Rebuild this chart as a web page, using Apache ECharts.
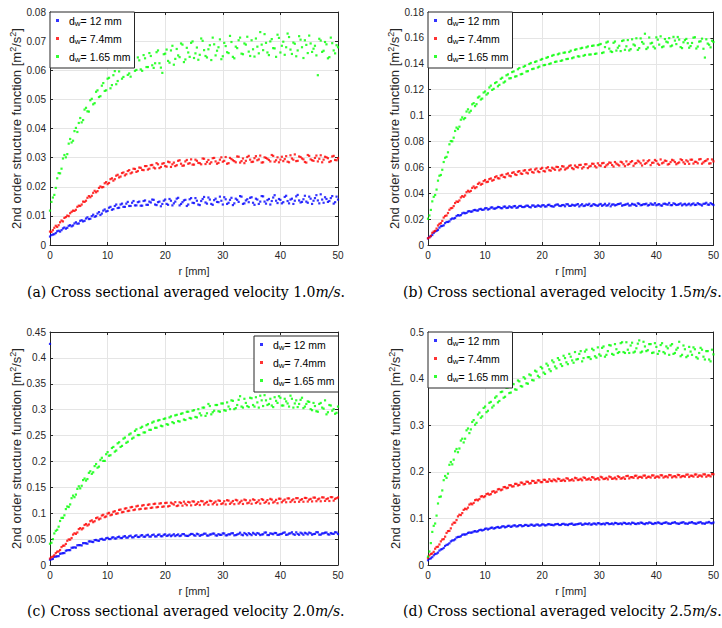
<!DOCTYPE html>
<html><head><meta charset="utf-8">
<script src="https://cdn.jsdelivr.net/npm/echarts@6/dist/echarts.min.js"></script>
<style>html,body{margin:0;padding:0;background:#fff}#c{width:722px;height:628px}</style>
</head><body><div id="c"></div>
<script>
// r [mm] sample positions (two interleaved sets of read-off points)
const R = [0,0.5,1,1.5,2,2.5,3,3.5,4,4.5,
5,5.5,6,6.5,7,7.5,8,8.5,9,9.5,
10,10.5,11,11.5,12,12.5,13,13.5,14,14.5,
15,15.5,16,16.5,17,17.5,18,18.5,19,19.5,
20,20.5,21,21.5,22,22.5,23,23.5,24,24.5,
25,25.5,26,26.5,27,27.5,28,28.5,29,29.5,
30,30.5,31,31.5,32,32.5,33,33.5,34,34.5,
35,35.5,36,36.5,37,37.5,38,38.5,39,39.5,
40,40.5,41,41.5,42,42.5,43,43.5,44,44.5,
45,45.5,46,46.5,47,47.5,48,48.5,49,49.5,50];
const R2 = [0.25,0.75,1.25,1.75,2.25,2.75,3.25,3.75,4.25,4.75,
5.25,5.75,6.25,6.75,7.25,7.75,8.25,8.75,9.25,9.75,
10.25,10.75,11.25,11.75,12.25,12.75,13.25,13.75,14.25,14.75,
15.25,15.75,16.25,16.75,17.25,17.75,18.25,18.75,19.25,19.75,
20.25,20.75,21.25,21.75,22.25,22.75,23.25,23.75,24.25,24.75,
25.25,25.75,26.25,26.75,27.25,27.75,28.25,28.75,29.25,29.75,
30.25,30.75,31.25,31.75,32.25,32.75,33.25,33.75,34.25,34.75,
35.25,35.75,36.25,36.75,37.25,37.75,38.25,38.75,39.25,39.75,
40.25,40.75,41.25,41.75,42.25,42.75,43.25,43.75,44.25,44.75,
45.25,45.75,46.25,46.75,47.25,47.75,48.25,48.75,49.25,49.75];

// (a) 1.0 m/s
const aBlue = [0.0029,0.0036,0.0041,0.0049,0.0051,0.0060,0.0059,0.0068,0.0067,0.0078,
0.0074,0.0085,0.0083,0.0095,0.0090,0.0104,0.0099,0.0113,0.0108,0.0122,
0.0117,0.0131,0.0123,0.0139,0.0128,0.0142,0.0131,0.0148,0.0134,0.0151,
0.0136,0.0149,0.0135,0.0153,0.0138,0.0146,0.0155,0.0137,0.0149,0.0141,
0.0156,0.0138,0.0152,0.0143,0.0159,0.0136,0.0147,0.0155,0.0139,0.0161,
0.0144,0.0152,0.0137,0.0158,0.0146,0.0163,0.0141,0.0154,0.0148,0.0166,
0.0139,0.0157,0.0145,0.0162,0.0143,0.0155,0.0168,0.0141,0.0153,0.0147,
0.0164,0.0138,0.0156,0.0149,0.0167,0.0142,0.0158,0.0151,0.0171,0.0144,
0.0155,0.0147,0.0169,0.0143,0.0159,0.0152,0.0172,0.0146,0.0157,0.0149,
0.0166,0.0141,0.0161,0.0153,0.0174,0.0145,0.0158,0.0151,0.0168,0.0147,0.0156];
const aBlue2 = [0.0034,0.0037,0.0047,0.0046,0.0057,0.0056,0.0066,0.0064,0.0074,0.0073,
0.0083,0.0081,0.0091,0.0089,0.0099,0.0097,0.0108,0.0103,0.0118,0.0115,
0.0128,0.0121,0.0134,0.0127,0.0139,0.0131,0.0142,0.0134,0.0145,0.0136,
0.0147,0.0135,0.0151,0.0138,0.0149,0.0156,0.0139,0.0147,0.0133,0.0152,
0.0141,0.0158,0.0136,0.0149,0.0162,0.0141,0.0153,0.0134,0.0157,0.0145,
0.0161,0.0139,0.0151,0.0165,0.0142,0.0156,0.0138,0.0159,0.0147,0.0152,
0.0164,0.0141,0.0155,0.0137,0.0159,0.0148,0.0166,0.0143,0.0157,0.0162,
0.0145,0.0159,0.0141,0.0168,0.0149,0.0154,0.0139,0.0163,0.0152,0.0158,
0.0143,0.0165,0.0151,0.0156,0.0141,0.0167,0.0153,0.0148,0.0169,0.0145,
0.0159,0.0152,0.0171,0.0143,0.0156,0.0164,0.0148,0.0161,0.0142,0.0166];
const aRed = [0.0046,0.0051,0.0066,0.0068,0.0084,0.0093,0.0101,0.0109,0.0118,0.0121,
0.0135,0.0139,0.0148,0.0162,0.0164,0.0179,0.0181,0.0196,0.0198,0.0212,
0.0209,0.0226,0.0221,0.0238,0.0232,0.0247,0.0239,0.0254,0.0246,0.0262,
0.0251,0.0266,0.0258,0.0271,0.0259,0.0274,0.0266,0.0281,0.0264,0.0279,
0.0271,0.0286,0.0268,0.0283,0.0274,0.0291,0.0272,0.0287,0.0279,0.0294,
0.0276,0.0289,0.0281,0.0297,0.0278,0.0292,0.0284,0.0299,0.0279,0.0293,
0.0286,0.0302,0.0281,0.0295,0.0288,0.0304,0.0283,0.0297,0.0289,0.0306,
0.0285,0.0298,0.0291,0.0307,0.0284,0.0299,0.0292,0.0309,0.0286,0.0301,
0.0293,0.0288,0.0305,0.0284,0.0297,0.0311,0.0289,0.0302,0.0294,0.0283,
0.0306,0.0291,0.0299,0.0287,0.0308,0.0293,0.0301,0.0285,0.0304,0.0292,0.0298];
const aRed2 = [0.0045,0.0059,0.0062,0.0078,0.0081,0.0096,0.0099,0.0114,0.0117,0.0131,
0.0134,0.0149,0.0152,0.0168,0.0169,0.0186,0.0185,0.0201,0.0199,0.0216,
0.0213,0.0229,0.0226,0.0241,0.0235,0.0249,0.0243,0.0257,0.0249,0.0261,
0.0254,0.0265,0.0257,0.0271,0.0262,0.0275,0.0263,0.0277,0.0268,0.0281,
0.0269,0.0284,0.0277,0.0271,0.0289,0.0279,0.0273,0.0292,0.0281,0.0276,
0.0293,0.0282,0.0277,0.0296,0.0285,0.0279,0.0298,0.0287,0.0282,0.0301,
0.0289,0.0279,0.0299,0.0291,0.0284,0.0303,0.0288,0.0281,0.0302,0.0293,
0.0286,0.0305,0.0294,0.0283,0.0301,0.0296,0.0287,0.0306,0.0291,0.0284,
0.0303,0.0295,0.0286,0.0308,0.0293,0.0288,0.0304,0.0297,0.0285,0.0309,
0.0294,0.0289,0.0307,0.0296,0.0284,0.0303,0.0298,0.0288,0.0306,0.0291];
const aGreen = [0.0118,0.0163,0.0196,0.0247,0.0262,0.0309,0.0312,0.0364,0.0358,0.0402,
0.0419,0.0421,0.0465,0.0459,0.0497,0.0483,0.0526,0.0508,0.0547,0.0529,
0.0571,0.0538,0.0583,0.0552,0.0596,0.0571,0.0612,0.0584,0.0578,0.0627,
0.0601,0.0634,0.0598,0.0641,0.0611,0.0649,0.0608,0.0662,0.0624,0.0591,
0.0657,0.0632,0.0668,0.0619,0.0673,0.0645,0.0688,0.0637,0.0661,0.0694,
0.0642,0.0678,0.0653,0.0701,0.0649,0.0672,0.0635,0.0689,0.0667,0.0706,
0.0648,0.0683,0.0659,0.0697,0.0641,0.0676,0.0712,0.0655,0.0688,0.0664,
0.0703,0.0647,0.0681,0.0731,0.0669,0.0694,0.0652,0.0707,0.0675,0.0722,
0.0661,0.0698,0.0679,0.0714,0.0656,0.0691,0.0668,0.0705,0.0642,0.0687,
0.0719,0.0663,0.0684,0.0583,0.0702,0.0667,0.0689,0.0645,0.0693,0.0658,0.0679];
const aGreen2 = [0.0148,0.0172,0.0229,0.0246,0.0297,0.0301,0.0348,0.0352,0.0391,0.0388,
0.0436,0.0429,0.0471,0.0458,0.0502,0.0487,0.0531,0.0511,0.0556,0.0531,
0.0574,0.0549,0.0597,0.0563,0.0611,0.0577,0.0624,0.0589,0.0639,0.0598,
0.0644,0.0603,0.0652,0.0611,0.0659,0.0617,0.0624,0.0668,0.0609,0.0655,
0.0671,0.0626,0.0684,0.0639,0.0651,0.0692,0.0628,0.0677,0.0646,0.0699,
0.0658,0.0636,0.0709,0.0669,0.0644,0.0686,0.0712,0.0651,0.0679,0.0638,
0.0694,0.0662,0.0718,0.0646,0.0681,0.0703,0.0657,0.0692,0.0715,0.0649,
0.0672,0.0709,0.0658,0.0688,0.0724,0.0661,0.0699,0.0676,0.0646,0.0711,
0.0684,0.0653,0.0726,0.0671,0.0695,0.0648,0.0717,0.0679,0.0703,0.0659,
0.0692,0.0674,0.0651,0.0708,0.0663,0.0697,0.0641,0.0712,0.0668,0.0686];

// (b) 1.5 m/s
const bBlue = [0.0051,0.0068,0.0093,0.0109,0.0134,0.0147,0.0169,0.0178,0.0198,0.0204,
0.0224,0.0227,0.0244,0.0245,0.0259,0.0257,0.0269,0.0266,0.0276,0.0271,
0.0283,0.0274,0.0289,0.0281,0.0286,0.0293,0.0284,0.0297,0.0288,0.0292,
0.0299,0.0287,0.0301,0.0294,0.0297,0.0303,0.0291,0.0305,0.0298,0.0302,
0.0306,0.0297,0.0309,0.0301,0.0296,0.0312,0.0303,0.0308,0.0299,0.0314,
0.0302,0.0307,0.0311,0.0298,0.0315,0.0304,0.0309,0.0301,0.0316,0.0306,
0.0312,0.0303,0.0318,0.0307,0.0299,0.0314,0.0309,0.0317,0.0304,0.0311,
0.0319,0.0306,0.0313,0.0302,0.0318,0.0309,0.0315,0.0305,0.0321,0.0311,
0.0307,0.0316,0.0304,0.0319,0.0312,0.0308,0.0322,0.0309,0.0315,0.0306,
0.0318,0.0313,0.0307,0.0321,0.0311,0.0316,0.0305,0.0319,0.0312,0.0324,0.0309];
const bBlue2 = [0.0063,0.0077,0.0104,0.0116,0.0145,0.0152,0.0178,0.0183,0.0205,0.0209,
0.0231,0.0231,0.0249,0.0248,0.0262,0.0259,0.0271,0.0266,0.0279,0.0273,
0.0285,0.0278,0.0291,0.0281,0.0294,0.0285,0.0296,0.0286,0.0299,0.0289,
0.0301,0.0291,0.0302,0.0293,0.0304,0.0294,0.0305,0.0295,0.0306,0.0296,
0.0308,0.0298,0.0311,0.0299,0.0306,0.0313,0.0301,0.0309,0.0315,0.0302,
0.0311,0.0304,0.0316,0.0307,0.0301,0.0313,0.0318,0.0305,0.0311,0.0303,
0.0317,0.0309,0.0304,0.0319,0.0312,0.0306,0.0316,0.0321,0.0308,0.0314,
0.0305,0.0318,0.0311,0.0322,0.0307,0.0315,0.0319,0.0309,0.0313,0.0323,
0.0312,0.0306,0.0318,0.0314,0.0325,0.0308,0.0317,0.0311,0.0321,0.0313,
0.0307,0.0319,0.0315,0.0309,0.0323,0.0312,0.0318,0.0326,0.0311,0.0316];
const bRed = [0.0052,0.0071,0.0104,0.0127,0.0163,0.0186,0.0224,0.0247,0.0284,0.0301,
0.0336,0.0344,0.0378,0.0383,0.0419,0.0418,0.0452,0.0447,0.0481,0.0472,
0.0502,0.0489,0.0514,0.0503,0.0531,0.0514,0.0542,0.0523,0.0553,0.0531,
0.0562,0.0541,0.0571,0.0549,0.0578,0.0553,0.0584,0.0559,0.0591,0.0563,
0.0596,0.0568,0.0601,0.0574,0.0589,0.0604,0.0577,0.0609,0.0583,0.0598,
0.0615,0.0586,0.0603,0.0618,0.0591,0.0623,0.0594,0.0611,0.0627,0.0599,
0.0616,0.0631,0.0603,0.0624,0.0635,0.0606,0.0629,0.0614,0.0638,0.0609,
0.0621,0.0641,0.0612,0.0633,0.0644,0.0614,0.0627,0.0647,0.0617,0.0636,
0.0649,0.0619,0.0631,0.0652,0.0622,0.0641,0.0653,0.0624,0.0638,0.0656,
0.0627,0.0645,0.0659,0.0629,0.0642,0.0661,0.0628,0.0648,0.0663,0.0631,0.0646];
const bRed2 = [0.0058,0.0094,0.0109,0.0151,0.0169,0.0212,0.0228,0.0272,0.0286,0.0324,
0.0333,0.0367,0.0372,0.0408,0.0411,0.0441,0.0439,0.0472,0.0466,0.0494,
0.0486,0.0509,0.0497,0.0524,0.0516,0.0537,0.0526,0.0547,0.0536,0.0557,
0.0546,0.0566,0.0553,0.0574,0.0559,0.0579,0.0564,0.0583,0.0569,0.0588,
0.0572,0.0593,0.0578,0.0597,0.0581,0.0602,0.0586,0.0606,0.0591,0.0611,
0.0594,0.0614,0.0599,0.0619,0.0602,0.0624,0.0606,0.0628,0.0609,0.0631,
0.0612,0.0634,0.0615,0.0637,0.0618,0.0641,0.0621,0.0643,0.0624,0.0646,
0.0626,0.0648,0.0629,0.0651,0.0631,0.0653,0.0633,0.0655,0.0635,0.0657,
0.0628,0.0661,0.0637,0.0649,0.0626,0.0658,0.0641,0.0632,0.0662,0.0639,
0.0654,0.0627,0.0659,0.0643,0.0631,0.0664,0.0638,0.0652,0.0629,0.0661];
const bGreen = [0.0203,0.0271,0.0372,0.0428,0.0535,0.0581,0.0674,0.0716,0.0803,0.0829,
0.0907,0.0914,0.0986,0.0981,0.1048,0.1037,0.1096,0.1088,0.1147,0.1131,
0.1186,0.1172,0.1231,0.1206,0.1258,0.1237,0.1292,0.1263,0.1318,0.1289,
0.1341,0.1304,0.1367,0.1322,0.1384,0.1343,0.1406,0.1362,0.1419,0.1378,
0.1437,0.1391,0.1452,0.1403,0.1468,0.1417,0.1479,0.1426,0.1487,0.1438,
0.1501,0.1449,0.1512,0.1456,0.1523,0.1468,0.1534,0.1472,0.1541,0.1479,
0.1548,0.1483,0.1529,0.1571,0.1496,0.1562,0.1502,0.1539,0.1576,0.1508,
0.1583,0.1513,0.1549,0.1597,0.1521,0.1568,0.1632,0.1526,0.1557,0.1532,
0.1604,0.1548,0.1528,0.1591,0.1565,0.1535,0.1608,0.1552,0.1587,0.1521,
0.1583,0.1559,0.1537,0.1602,0.1518,0.1571,0.1594,0.1448,0.1556,0.1527,0.1568];
const bGreen2 = [0.0228,0.0337,0.0386,0.0497,0.0541,0.0641,0.0681,0.0778,0.0801,0.0881,
0.0896,0.0968,0.0972,0.1031,0.1024,0.1087,0.1073,0.1139,0.1124,0.1178,
0.1162,0.1217,0.1198,0.1251,0.1226,0.1284,0.1255,0.1311,0.1287,0.1336,
0.1301,0.1358,0.1319,0.1377,0.1341,0.1398,0.1359,0.1414,0.1372,0.1431,
0.1389,0.1446,0.1398,0.1462,0.1414,0.1473,0.1422,0.1485,0.1436,0.1491,
0.1443,0.1508,0.1458,0.1519,0.1462,0.1527,0.1471,0.1538,0.1476,0.1544,
0.1553,0.1488,0.1564,0.1517,0.1491,0.1572,0.1524,0.1498,0.1581,0.1535,
0.1503,0.1589,0.1541,0.1507,0.1596,0.1555,0.1514,0.1603,0.1562,0.1519,
0.1586,0.1612,0.1534,0.1571,0.1598,0.1541,0.1579,0.1607,0.1529,0.1566,
0.1592,0.1524,0.1561,0.1605,0.1533,0.1574,0.1516,0.1589,0.1547,0.1578];

// (c) 2.0 m/s
const cBlue = [0.0102,0.0118,0.0163,0.0172,0.0223,0.0231,0.0284,0.0287,0.0336,0.0335,
0.0384,0.0378,0.0423,0.0411,0.0456,0.0443,0.0484,0.0467,0.0506,0.0488,
0.0524,0.0501,0.0536,0.0512,0.0547,0.0521,0.0558,0.0529,0.0566,0.0535,
0.0573,0.0541,0.0578,0.0546,0.0583,0.0549,0.0587,0.0552,0.0589,0.0555,
0.0592,0.0571,0.0557,0.0594,0.0578,0.0559,0.0597,0.0569,0.0561,0.0599,
0.0574,0.0603,0.0563,0.0586,0.0605,0.0567,0.0591,0.0606,0.0568,0.0583,
0.0611,0.0572,0.0594,0.0612,0.0573,0.0589,0.0624,0.0575,0.0598,0.0615,
0.0577,0.0602,0.0617,0.0578,0.0593,0.0628,0.0579,0.0604,0.0619,0.0581,
0.0596,0.0621,0.0582,0.0607,0.0632,0.0583,0.0599,0.0624,0.0584,0.0609,
0.0626,0.0585,0.0601,0.0631,0.0586,0.0612,0.0627,0.0587,0.0604,0.0633,0.0598];
const cBlue2 = [0.0109,0.0157,0.0168,0.0216,0.0229,0.0276,0.0288,0.0333,0.0341,0.0381,
0.0384,0.0422,0.0419,0.0456,0.0449,0.0481,0.0471,0.0499,0.0488,0.0516,
0.0502,0.0529,0.0511,0.0538,0.0521,0.0547,0.0528,0.0555,0.0534,0.0562,
0.0541,0.0568,0.0546,0.0573,0.0549,0.0578,0.0552,0.0581,0.0556,0.0584,
0.0561,0.0588,0.0574,0.0559,0.0591,0.0569,0.0596,0.0562,0.0583,0.0599,
0.0566,0.0593,0.0577,0.0604,0.0569,0.0588,0.0607,0.0572,0.0596,0.0581,
0.0609,0.0574,0.0591,0.0614,0.0578,0.0602,0.0586,0.0618,0.0576,0.0597,
0.0621,0.0583,0.0605,0.0589,0.0626,0.0579,0.0611,0.0594,0.0617,0.0585,
0.0603,0.0629,0.0587,0.0612,0.0596,0.0631,0.0583,0.0608,0.0622,0.0591,
0.0614,0.0598,0.0634,0.0586,0.0609,0.0624,0.0593,0.0617,0.0601,0.0628];
const cBlueOutlier = [[0, 0.427]];
const cRed = [0.0124,0.0163,0.0231,0.0262,0.0346,0.0374,0.0468,0.0489,0.0587,0.0601,
0.0694,0.0688,0.0773,0.0762,0.0846,0.0827,0.0905,0.0881,0.0956,0.0924,
0.0993,0.0961,0.1027,0.0989,0.1064,0.1018,0.1089,0.1042,0.1114,0.1061,
0.1132,0.1076,0.1147,0.1089,0.1162,0.1102,0.1178,0.1114,0.1186,0.1123,
0.1197,0.1131,0.1204,0.1168,0.1139,0.1211,0.1146,0.1183,0.1218,0.1152,
0.1224,0.1181,0.1158,0.1229,0.1195,0.1163,0.1234,0.1201,0.1167,0.1238,
0.1192,0.1171,0.1243,0.1206,0.1175,0.1247,0.1211,0.1179,0.1251,0.1203,
0.1183,0.1255,0.1216,0.1186,0.1258,0.1221,0.1189,0.1262,0.1225,0.1193,
0.1279,0.1241,0.1212,0.1286,0.1248,0.1217,0.1291,0.1256,0.1222,0.1293,
0.1262,0.1228,0.1301,0.1268,0.1231,0.1304,0.1273,0.1236,0.1309,0.1277,0.1305];
const cRed2 = [0.0151,0.0188,0.0257,0.0289,0.0372,0.0407,0.0494,0.0521,0.0612,0.0628,
0.0713,0.0709,0.0791,0.0783,0.0862,0.0846,0.0917,0.0898,0.0969,0.0937,
0.1007,0.0973,0.1039,0.0998,0.1071,0.1026,0.1096,0.1049,0.1121,0.1071,
0.1143,0.1084,0.1158,0.1093,0.1171,0.1109,0.1184,0.1121,0.1193,0.1131,
0.1202,0.1141,0.1186,0.1215,0.1149,0.1197,0.1223,0.1155,0.1208,0.1229,
0.1161,0.1214,0.1236,0.1169,0.1218,0.1241,0.1173,0.1225,0.1247,0.1178,
0.1232,0.1252,0.1181,0.1236,0.1258,0.1186,0.1241,0.1263,0.1192,0.1245,
0.1268,0.1197,0.1249,0.1272,0.1201,0.1253,0.1277,0.1206,0.1258,0.1281,
0.1212,0.1263,0.1286,0.1217,0.1268,0.1291,0.1221,0.1272,0.1296,0.1226,
0.1277,0.1302,0.1232,0.1282,0.1307,0.1238,0.1286,0.1311,0.1243,0.1291];
const cGreen = [0.041,0.050,0.066,0.074,0.091,0.096,0.113,0.117,0.134,0.136,
0.152,0.153,0.167,0.166,0.181,0.179,0.195,0.190,0.207,0.201,
0.218,0.212,0.228,0.221,0.237,0.230,0.246,0.238,0.254,0.246,
0.262,0.251,0.267,0.256,0.272,0.261,0.277,0.265,0.280,0.268,
0.283,0.271,0.287,0.274,0.290,0.277,0.293,0.280,0.296,0.283,
0.299,0.285,0.293,0.304,0.288,0.311,0.291,0.298,0.309,0.296,
0.312,0.298,0.306,0.318,0.301,0.309,0.326,0.304,0.313,0.305,
0.322,0.306,0.314,0.327,0.307,0.318,0.311,0.308,0.324,0.313,
0.323,0.308,0.316,0.306,0.321,0.312,0.305,0.319,0.303,0.311,
0.315,0.299,0.307,0.296,0.313,0.302,0.291,0.309,0.298,0.292,0.306];
const cGreen2 = [0.043,0.061,0.068,0.085,0.091,0.108,0.112,0.129,0.131,0.147,
0.148,0.164,0.163,0.178,0.176,0.191,0.188,0.203,0.201,0.214,
0.211,0.226,0.219,0.235,0.228,0.244,0.236,0.252,0.244,0.259,
0.251,0.265,0.256,0.270,0.261,0.275,0.265,0.279,0.269,0.282,
0.272,0.285,0.276,0.289,0.278,0.292,0.281,0.296,0.284,0.298,
0.286,0.301,0.289,0.304,0.293,0.307,0.295,0.309,0.297,0.312,
0.299,0.314,0.301,0.317,0.303,0.319,0.306,0.321,0.307,0.323,
0.309,0.324,0.304,0.318,0.328,0.309,0.321,0.305,0.317,0.326,
0.308,0.321,0.312,0.327,0.304,0.318,0.311,0.323,0.306,0.316,
0.301,0.313,0.297,0.311,0.304,0.318,0.295,0.308,0.301,0.294];

// (d) 2.5 m/s
const dBlue = [0.0102,0.0143,0.0208,0.0244,0.0309,0.0342,0.0408,0.0441,0.0507,0.0531,
0.0589,0.0603,0.0648,0.0652,0.0689,0.0693,0.0718,0.0714,0.0748,0.0741,
0.0776,0.0762,0.0797,0.0781,0.0809,0.0796,0.0828,0.0808,0.0839,0.0817,
0.0849,0.0826,0.0854,0.0831,0.0859,0.0838,0.0866,0.0841,0.0868,0.0845,
0.0871,0.0849,0.0874,0.0862,0.0852,0.0877,0.0858,0.0879,0.0866,0.0857,
0.0884,0.0861,0.0873,0.0886,0.0863,0.0888,0.0875,0.0866,0.0891,0.0869,
0.0895,0.0878,0.0871,0.0897,0.0882,0.0873,0.0899,0.0884,0.0875,0.0901,
0.0886,0.0876,0.0903,0.0879,0.0889,0.0904,0.0877,0.0892,0.0905,0.0880,
0.0894,0.0906,0.0881,0.0907,0.0893,0.0882,0.0908,0.0896,0.0883,0.0909,
0.0891,0.0884,0.0909,0.0898,0.0884,0.0910,0.0893,0.0885,0.0911,0.0899,0.0912];
const dBlue2 = [0.0131,0.0168,0.0234,0.0266,0.0333,0.0366,0.0431,0.0466,0.0526,0.0551,
0.0602,0.0617,0.0657,0.0662,0.0697,0.0698,0.0727,0.0725,0.0756,0.0753,
0.0783,0.0777,0.0803,0.0792,0.0816,0.0807,0.0831,0.0819,0.0841,0.0829,
0.0849,0.0834,0.0855,0.0839,0.0859,0.0844,0.0863,0.0847,0.0866,0.0851,
0.0869,0.0854,0.0876,0.0861,0.0871,0.0881,0.0859,0.0884,0.0868,0.0877,
0.0887,0.0866,0.0879,0.0892,0.0869,0.0883,0.0895,0.0871,0.0886,0.0898,
0.0874,0.0889,0.0901,0.0877,0.0892,0.0904,0.0879,0.0894,0.0906,0.0881,
0.0896,0.0908,0.0883,0.0897,0.0911,0.0885,0.0899,0.0913,0.0886,0.0901,
0.0914,0.0887,0.0902,0.0916,0.0888,0.0903,0.0918,0.0889,0.0905,0.0919,
0.0891,0.0906,0.0921,0.0892,0.0907,0.0922,0.0893,0.0908,0.0924,0.0894];
const dRed = [0.0148,0.0236,0.0283,0.0386,0.0441,0.0547,0.0608,0.0727,0.0786,0.0908,
0.0964,0.1079,0.1114,0.1208,0.1231,0.1318,0.1332,0.1403,0.1414,0.1478,
0.1476,0.1532,0.1521,0.1584,0.1572,0.1631,0.1619,0.1674,0.1658,0.1712,
0.1689,0.1741,0.1718,0.1765,0.1739,0.1784,0.1756,0.1801,0.1768,0.1814,
0.1779,0.1826,0.1788,0.1807,0.1836,0.1796,0.1845,0.1813,0.1803,0.1853,
0.1821,0.1811,0.1861,0.1832,0.1818,0.1868,0.1839,0.1826,0.1874,0.1845,
0.1832,0.1879,0.1851,0.1838,0.1884,0.1856,0.1843,0.1889,0.1861,0.1847,
0.1913,0.1885,0.1871,0.1916,0.1889,0.1874,0.1919,0.1892,0.1877,0.1922,
0.1895,0.1879,0.1924,0.1898,0.1881,0.1927,0.1901,0.1883,0.1929,0.1904,
0.1895,0.1941,0.1917,0.1897,0.1943,0.1919,0.1899,0.1945,0.1922,0.1901,0.1947];
const dRed2 = [0.0203,0.0247,0.0349,0.0392,0.0507,0.0556,0.0688,0.0731,0.0869,0.0908,
0.1043,0.1071,0.1183,0.1197,0.1296,0.1302,0.1391,0.1387,0.1468,0.1456,
0.1521,0.1508,0.1572,0.1553,0.1623,0.1604,0.1671,0.1648,0.1712,0.1684,
0.1741,0.1707,0.1769,0.1731,0.1788,0.1749,0.1806,0.1762,0.1817,0.1778,
0.1829,0.1787,0.1841,0.1798,0.1819,0.1852,0.1805,0.1831,0.1862,0.1813,
0.1838,0.1871,0.1823,0.1849,0.1879,0.1831,0.1856,0.1886,0.1837,0.1863,
0.1893,0.1844,0.1869,0.1898,0.1849,0.1875,0.1904,0.1853,0.1881,0.1908,
0.1858,0.1886,0.1914,0.1863,0.1891,0.1918,0.1867,0.1895,0.1923,0.1871,
0.1899,0.1927,0.1876,0.1903,0.1931,0.1879,0.1907,0.1935,0.1884,0.1911,
0.1938,0.1888,0.1915,0.1942,0.1891,0.1919,0.1946,0.1894,0.1923,0.1951];
const dGreen = [0.018,0.047,0.084,0.106,0.146,0.160,0.191,0.196,0.221,0.226,
0.249,0.250,0.271,0.271,0.293,0.291,0.311,0.305,0.327,0.319,
0.340,0.331,0.350,0.342,0.362,0.352,0.372,0.361,0.381,0.370,
0.388,0.376,0.394,0.383,0.400,0.389,0.407,0.396,0.415,0.403,
0.422,0.410,0.428,0.416,0.435,0.422,0.440,0.427,0.444,0.431,
0.447,0.434,0.441,0.453,0.437,0.458,0.446,0.442,0.461,0.445,
0.452,0.466,0.447,0.459,0.471,0.451,0.463,0.457,0.478,0.455,
0.462,0.471,0.456,0.465,0.482,0.458,0.469,0.461,0.474,0.456,
0.468,0.459,0.476,0.454,0.465,0.471,0.453,0.462,0.479,0.451,
0.463,0.449,0.458,0.467,0.446,0.455,0.462,0.441,0.459,0.437,0.452];
const dGreen2 = [0.029,0.071,0.089,0.132,0.147,0.182,0.187,0.215,0.216,0.244,
0.242,0.267,0.263,0.289,0.283,0.307,0.301,0.323,0.316,0.337,
0.328,0.348,0.338,0.359,0.349,0.371,0.359,0.380,0.369,0.389,
0.377,0.396,0.384,0.403,0.390,0.409,0.397,0.417,0.406,0.425,
0.413,0.432,0.420,0.439,0.426,0.444,0.431,0.449,0.435,0.453,
0.439,0.457,0.442,0.459,0.444,0.462,0.446,0.464,0.448,0.467,
0.449,0.469,0.451,0.472,0.453,0.474,0.455,0.476,0.457,0.478,
0.455,0.477,0.458,0.475,0.456,0.479,0.459,0.474,0.455,0.476,
0.453,0.472,0.457,0.469,0.451,0.474,0.455,0.466,0.448,0.471,
0.446,0.468,0.451,0.463,0.443,0.466,0.447,0.459,0.441,0.462];

const SERIES_NAMES = ['dw12', 'dw74', 'dw165'];
const LEGEND_TEXT = {dw12: '= 12 mm', dw74: '= 7.4mm', dw165: '= 1.65 mm'};
const COLORS = ['#0000ff', '#ff0000', '#00ff00'];
const Y_MAX = [0.08, 0.18, 0.45, 0.5];
const Y_STEP = [0.01, 0.02, 0.05, 0.1];
const X_MAX = 50, X_STEP = 10;
const X_NAME = 'r [mm]';
const Y_NAME = '2nd order structure function [m{sup|2}/s{sup|2}]';
const CAPTIONS = ['(a) Cross sectional averaged velocity 1.0',
                  '(b) Cross sectional averaged velocity 1.5',
                  '(c) Cross sectional averaged velocity 2.0',
                  '(d) Cross sectional averaged velocity 2.5'];
const CAPTION_UNIT = 'm/s';

// per panel: [blue, red, green] on R, [blue, red, green] on R2, extra points
const PANELS = [
  [[aBlue, aRed, aGreen], [aBlue2, aRed2, aGreen2], [[], [], []]],
  [[bBlue, bRed, bGreen], [bBlue2, bRed2, bGreen2], [[], [], []]],
  [[cBlue, cRed, cGreen], [cBlue2, cRed2, cGreen2], [cBlueOutlier, [], []]],
  [[dBlue, dRed, dGreen], [dBlue2, dRed2, dGreen2], [[], [], []]]
];

// layout
const GRID_POS = [[50, 12], [428, 12], [50, 332], [428, 332]];
const GRID_W = 288, GRID_H = 233;
const LEGEND_POS = [[50, 12], [428, 12], [254, 336], [428, 332]];
const CAPTION_POS = [[27, 285], [403, 285], [27, 604], [403, 604]];

const FONT = '"Liberation Sans", Arial, Helvetica, sans-serif';
const AX = '#262626';

const grid = [], xAxis = [], yAxis = [], series = [], legend = [], title = [];
PANELS.forEach((p, i) => {
  grid.push({left: GRID_POS[i][0], top: GRID_POS[i][1], width: GRID_W, height: GRID_H, containLabel: false});
  const line = {show: true, onZero: false, lineStyle: {color: AX, width: 1}};
  const tick = {show: true, inside: true, length: 3, lineStyle: {color: AX, width: 1}};
  xAxis.push({gridIndex: i, type: 'value', min: 0, max: X_MAX, interval: X_STEP,
    axisLine: line, axisTick: tick,
    axisLabel: {fontSize: 10, color: AX, margin: 5, fontFamily: FONT},
    splitLine: {show: true, lineStyle: {color: '#e5e5e5', width: 1}},
    name: X_NAME, nameLocation: 'middle', nameGap: 20,
    nameTextStyle: {fontSize: 11, color: AX, fontFamily: FONT}});
  yAxis.push({gridIndex: i, type: 'value', min: 0, max: Y_MAX[i], interval: Y_STEP[i],
    axisLine: line, axisTick: tick,
    axisLabel: {fontSize: 10, color: AX, margin: 4, fontFamily: FONT},
    splitLine: {show: true, lineStyle: {color: '#e5e5e5', width: 1}},
    name: Y_NAME, nameLocation: 'middle', nameGap: 25,
    nameTextStyle: {fontSize: 13, color: AX, fontFamily: FONT,
      rich: {sup: {fontSize: 9, color: AX, fontFamily: FONT, padding: [0, 0, 7, 0]}}}});
  legend.push({left: LEGEND_POS[i][0], top: LEGEND_POS[i][1], orient: 'vertical',
    icon: 'rect', itemWidth: 3, itemHeight: 3, itemGap: 6,
    padding: [3, 4, 5, 6], borderColor: AX, borderWidth: 1, backgroundColor: '#fff',
    selectedMode: false, data: SERIES_NAMES,
    formatter: n => '{t|d}{s|w}{t|' + LEGEND_TEXT[n] + '}',
    textStyle: {fontSize: 10.5, color: '#000', fontFamily: FONT, padding: [0, 0, 0, 5],
      rich: {t: {fontSize: 10.5, color: '#000', fontFamily: FONT},
             s: {fontSize: 8, color: '#000', fontFamily: FONT, padding: [5, 0, 0, 0]}}}});
  title.push({text: CAPTIONS[i] + '{i|' + CAPTION_UNIT + '}.', left: CAPTION_POS[i][0], top: CAPTION_POS[i][1],
    padding: 0,
    textStyle: {fontFamily: '"DejaVu Serif", serif', fontSize: 14, fontWeight: 'normal', color: '#000',
      rich: {i: {fontFamily: '"DejaVu Serif", serif', fontSize: 14, fontStyle: 'italic', color: '#000'}}}});
  [0, 1, 2].forEach(j => {
    const data = R.map((r, k) => [r, p[0][j][k]])
      .concat(R2.map((r, k) => [r, p[1][j][k]]))
      .concat(p[2][j]);
    series.push({type: 'scatter', name: SERIES_NAMES[j], xAxisIndex: i, yAxisIndex: i,
      data: data, symbol: 'rect', symbolSize: 2.2, itemStyle: {color: COLORS[j]}, silent: true});
  });
});
// box: top and right axes with inward ticks
PANELS.forEach((p, i) => {
  const line = {show: true, onZero: false, lineStyle: {color: AX, width: 1}};
  const tick = {show: true, inside: true, length: 3, lineStyle: {color: AX, width: 1}};
  xAxis.push({gridIndex: i, type: 'value', position: 'top', min: 0, max: X_MAX, interval: X_STEP,
    axisLine: line, axisTick: tick, axisLabel: {show: false}, splitLine: {show: false}});
  yAxis.push({gridIndex: i, type: 'value', position: 'right', min: 0, max: Y_MAX[i], interval: Y_STEP[i],
    axisLine: line, axisTick: tick, axisLabel: {show: false}, splitLine: {show: false}});
});

const chart = echarts.init(document.getElementById('c'), null, {renderer: 'svg'});
chart.setOption({animation: false, backgroundColor: '#fff', title, grid, xAxis, yAxis, legend, series});
</script></body></html>
